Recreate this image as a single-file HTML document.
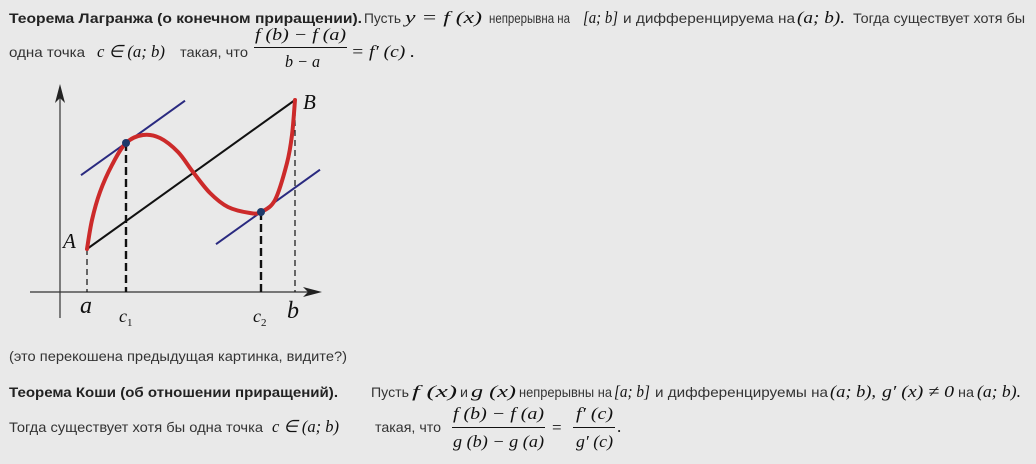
<!DOCTYPE html>
<html><head><meta charset="utf-8">
<style>
html,body{margin:0;padding:0;background:#e9e9e9;}
svg{display:block;}
.t{font-family:"Liberation Sans",sans-serif;font-size:14px;fill:#333;}
.b{font-weight:bold;fill:#222;}
.m{font-family:"Liberation Serif",serif;font-size:17px;font-style:italic;fill:#111;}
.mn{font-family:"Liberation Serif",serif;font-size:17px;fill:#111;}
.lbl{font-family:"Liberation Serif",serif;font-style:italic;fill:#111;}
</style></head>
<body>
<svg id="page" width="1036" height="464" viewBox="0 0 1036 464" xmlns="http://www.w3.org/2000/svg">
<rect width="1036" height="464" fill="#e9e9e9"/>

<g>
<text class="t b" x="9" y="23" textLength="353" lengthAdjust="spacingAndGlyphs">Теорема  Лагранжа (о конечном приращении).</text>
<text class="t" x="364" y="23" textLength="37" lengthAdjust="spacingAndGlyphs">Пусть</text>
<text class="m" x="405" y="23" textLength="77" lengthAdjust="spacingAndGlyphs">y = f (x)</text>
<text class="t" x="489" y="23" textLength="81" lengthAdjust="spacingAndGlyphs">непрерывна на</text>
<text class="m" x="583" y="23" textLength="35" lengthAdjust="spacingAndGlyphs">[a; b]</text>
<text class="t" x="623" y="23" textLength="172" lengthAdjust="spacingAndGlyphs">и дифференцируема на</text>
<text class="m" x="797" y="23" textLength="48" lengthAdjust="spacingAndGlyphs">(a; b).</text>
<text class="t" x="853" y="23" textLength="172" lengthAdjust="spacingAndGlyphs">Тогда существует хотя бы</text>
<text class="t" x="9" y="57" textLength="76" lengthAdjust="spacingAndGlyphs">одна точка</text>
<text class="m" x="97" y="57" textLength="68" lengthAdjust="spacingAndGlyphs">c ∈ (a; b)</text>
<text class="t" x="180" y="57" textLength="68" lengthAdjust="spacingAndGlyphs">такая, что</text>
<text class="m" x="255" y="40" textLength="91" lengthAdjust="spacingAndGlyphs">f (b) − f (a)</text>
<line x1="254" y1="47.5" x2="347" y2="47.5" stroke="#111" stroke-width="1"/>
<text class="m" x="285" y="67" textLength="35" lengthAdjust="spacingAndGlyphs">b − a</text>
<text class="m" x="351" y="57" textLength="64" lengthAdjust="spacingAndGlyphs">= f′ (c) .</text>
</g>

<g id="chart"></g>

<text class="t" x="9" y="361" textLength="338" lengthAdjust="spacingAndGlyphs">(это перекошена предыдущая картинка, видите?)</text>

<g>
<text class="t b" x="9" y="397" textLength="329" lengthAdjust="spacingAndGlyphs">Теорема Коши (об отношении приращений).</text>
<text class="t" x="371" y="397" textLength="38" lengthAdjust="spacingAndGlyphs">Пусть</text>
<text class="m" x="412" y="397" textLength="45" lengthAdjust="spacingAndGlyphs">f (x)</text>
<text class="t" x="460" y="397" textLength="8" lengthAdjust="spacingAndGlyphs">и</text>
<text class="m" x="471" y="397" textLength="45" lengthAdjust="spacingAndGlyphs">g (x)</text>
<text class="t" x="519" y="397" textLength="93" lengthAdjust="spacingAndGlyphs">непрерывны на</text>
<text class="m" x="614" y="397" textLength="36" lengthAdjust="spacingAndGlyphs">[a; b]</text>
<text class="t" x="655" y="397" textLength="173" lengthAdjust="spacingAndGlyphs">и дифференцируемы на</text>
<text class="m" x="830" y="397" textLength="46" lengthAdjust="spacingAndGlyphs">(a; b),</text>
<text class="m" x="882" y="397" textLength="72" lengthAdjust="spacingAndGlyphs">g′ (x) ≠ 0</text>
<text class="t" x="958" y="397" textLength="16" lengthAdjust="spacingAndGlyphs">на</text>
<text class="m" x="977" y="397" textLength="44" lengthAdjust="spacingAndGlyphs">(a; b).</text>
<text class="t" x="9" y="432" textLength="254" lengthAdjust="spacingAndGlyphs">Тогда существует хотя бы одна точка</text>
<text class="m" x="272" y="432" textLength="67" lengthAdjust="spacingAndGlyphs">c ∈ (a; b)</text>
<text class="t" x="375" y="432" textLength="66" lengthAdjust="spacingAndGlyphs">такая, что</text>
<text class="m" x="453" y="419" textLength="91" lengthAdjust="spacingAndGlyphs">f (b) − f (a)</text>
<line x1="452" y1="427.5" x2="545" y2="427.5" stroke="#111" stroke-width="1"/>
<text class="m" x="453" y="447" textLength="91" lengthAdjust="spacingAndGlyphs">g (b) − g (a)</text>
<text class="mn" x="552" y="433" font-size="19">=</text>
<text class="m" x="576" y="419" textLength="37" lengthAdjust="spacingAndGlyphs">f′ (c)</text>
<line x1="573" y1="427.5" x2="615" y2="427.5" stroke="#111" stroke-width="1"/>
<text class="m" x="576" y="447" textLength="37" lengthAdjust="spacingAndGlyphs">g′ (c)</text>
<text class="mn" x="617" y="432">.</text>
</g>
</svg>
<script>
// data (units: offset right/up from axis origin)
const curveX = [27,32,40,52,66,83,100,118,133,150,168,190,201,215,227,232,235];
const curveY = [43,72,100,127,149,157,154,140,120,99,85,79,80,92,129,157,192];
const pointA = [27,43];
const pointB = [235,192];
const c1 = [66,149];
const c2 = [201,80];
const tangentLen = [-45,59];
const slope = (pointB[1]-pointA[1])/(pointB[0]-pointA[0]);

const X0=60, Y0=292;
function sx(v){return X0+v;}
function sy(v){return Y0-v;}
const NS='http://www.w3.org/2000/svg';
const g=document.getElementById('chart');
function mk(tag,attrs,parent){const e=document.createElementNS(NS,tag);for(const k in attrs)e.setAttribute(k,attrs[k]);(parent||g).appendChild(e);return e;}

let e;
e=mk('line',{x1:30,y1:Y0,x2:318,y2:Y0,stroke:'#333','stroke-width':1.2});


e=mk('path',{d:`M322 ${Y0} L303 ${Y0-5} L308 ${Y0} L303 ${Y0+5}Z`,fill:'#222'});


e=mk('line',{x1:X0,y1:318,x2:X0,y2:89,stroke:'#333','stroke-width':1.2});


e=mk('path',{d:`M${X0} 84 L${X0-5} 103 L${X0} 98 L${X0+5} 103Z`,fill:'#222'});



function vdash(p,w,dash,name){
  const l=mk('line',{x1:sx(p[0]),y1:sy(p[1]),x2:sx(p[0]),y2:Y0,stroke:'#111','stroke-width':w,'stroke-dasharray':dash});
  
  
}
vdash(pointA,1.2,'6,4','dashed-a');
vdash(pointB,1.2,'6,4','dashed-b');
vdash(c1,2.4,'8,4','dashed-c1');
vdash(c2,2.4,'8,4','dashed-c2');

e=mk('line',{x1:sx(pointA[0]),y1:sy(pointA[1]),x2:sx(pointB[0]),y2:sy(pointB[1]),stroke:'#111','stroke-width':2});



function tangent(p,name){
  const x1=p[0]+tangentLen[0],x2=p[0]+tangentLen[1];
  const l=mk('line',{x1:sx(x1),y1:sy(p[1]+slope*tangentLen[0]),x2:sx(x2),y2:sy(p[1]+slope*tangentLen[1]),stroke:'#2a2a80','stroke-width':2});
  
  
}
tangent(c1,'tangent-c1');
tangent(c2,'tangent-c2');

const pts=curveX.map((x,i)=>[sx(x),sy(curveY[i])]);
let d=`M${pts[0][0]} ${pts[0][1]}`;
for(let i=0;i<pts.length-1;i++){
  const p0=pts[Math.max(0,i-1)],p1=pts[i],p2=pts[i+1],p3=pts[Math.min(pts.length-1,i+2)];
  d+=` C${p1[0]+(p2[0]-p0[0])/6} ${p1[1]+(p2[1]-p0[1])/6} ${p2[0]-(p3[0]-p1[0])/6} ${p2[1]-(p3[1]-p1[1])/6} ${p2[0]} ${p2[1]}`;
}
e=mk('path',{d:d,fill:'none',stroke:'#cc2a2a','stroke-width':4,'stroke-linecap':'round'});



[[c1,'point-c1'],[c2,'point-c2']].forEach(([p,n])=>{
  const c=mk('circle',{cx:sx(p[0]),cy:sy(p[1]),r:4,fill:'#1e3a6a'});
  
  
});

function lbl(txt,x,y,size,name,sub){
  const t=mk('text',{x:x,y:y,'font-size':size,class:'lbl'});
  t.textContent=txt;
  if(sub){const s=document.createElementNS(NS,'tspan');s.setAttribute('font-size',11);s.setAttribute('font-style','normal');s.setAttribute('dy',4);s.textContent=sub;t.appendChild(s);}
  
  
}
lbl('A',sx(pointA[0])-24,sy(pointA[1])-1,21,'label-A');
lbl('B',sx(pointB[0])+8,sy(pointB[1])+9,21,'label-B');
lbl('a',sx(pointA[0])-7,313,24,'label-a');
lbl('b',sx(pointB[0])-8,318,24,'label-b');
lbl('c',sx(c1[0])-7,322,18,'label-c1','1');
lbl('c',sx(c2[0])-8,322,18,'label-c2','2');
</script>
</body></html>
